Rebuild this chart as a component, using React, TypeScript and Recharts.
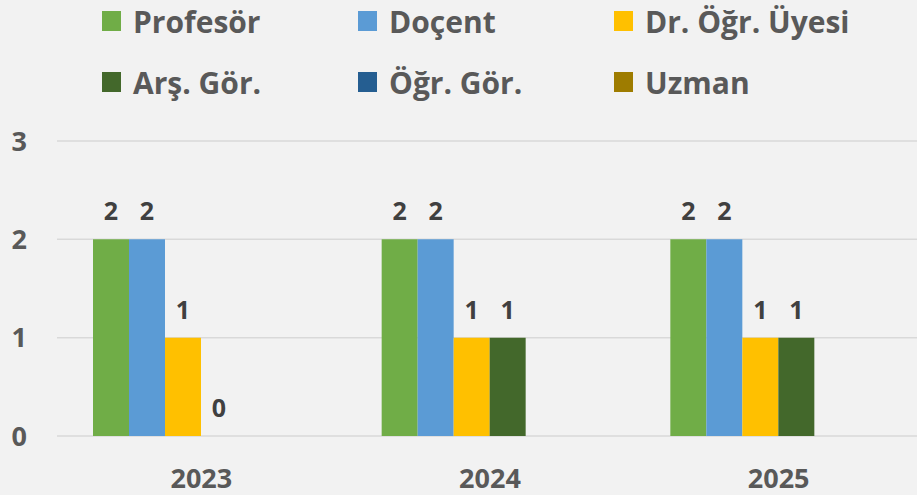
import React from 'react';
import { BarChart, Bar, XAxis, YAxis, CartesianGrid, LabelList } from 'recharts';

const years = ['2023', '2024', '2025'];
const profesor = [2, 2, 2];
const docent = [2, 2, 2];
const drOgrUyesi = [1, 1, 1];
const arsGor = [0, 1, 1];
const ogrGor: (number | null)[] = [null, null, null];
const uzman: (number | null)[] = [null, null, null];
const yTicks = [0, 1, 2, 3];

const series = [
    { key: 'profesor', name: 'Profesör', color: '#70AD47', values: profesor },
    { key: 'docent', name: 'Doçent', color: '#5B9BD5', values: docent },
    { key: 'drOgrUyesi', name: 'Dr. Öğr. Üyesi', color: '#FFC000', values: drOgrUyesi },
    { key: 'arsGor', name: 'Arş. Gör.', color: '#43682B', values: arsGor },
    { key: 'ogrGor', name: 'Öğr. Gör.', color: '#255E91', values: ogrGor },
    { key: 'uzman', name: 'Uzman', color: '#9E7C00', values: uzman },
];

const data = years.map((year, i) => {
    const row: Record<string, string | number | null> = { year };
    series.forEach((s) => {
        row[s.key] = s.values[i];
    });
    return row;
});

const FONT = '"Open Sans", sans-serif';

// zero values still need their "0" label, so keep a hairline rect for them
const zeroMin = (value: number | null) => (value === 0 ? 0.01 : 0);

const LegendBlock: React.FC = () => (
    <div
        style={{
            position: 'absolute',
            left: 102,
            top: 1,
            display: 'grid',
            gridTemplateColumns: '256px 256px 256px',
            gridAutoRows: '40px',
            rowGap: 21,
            fontFamily: FONT,
            fontWeight: 700,
            fontSize: 30,
            color: '#595959',
        }}
    >
        {series.map((s) => (
            <div key={s.key} style={{ display: 'flex', alignItems: 'center', whiteSpace: 'nowrap' }}>
                <span style={{ width: 19, height: 20, background: s.color, marginRight: 12, flexShrink: 0 }} />
                <span>{s.name}</span>
            </div>
        ))}
    </div>
);

const App: React.FC = () => {
    return (
        <div
            style={{
                position: 'absolute',
                left: 0,
                top: 0,
                width: 917,
                height: 495,
                overflow: 'hidden',
                background: '#f2f2f2',
            }}
        >
            <BarChart
                width={924}
                height={495}
                data={data}
                margin={{ top: 141, right: 1, left: 0, bottom: 0 }}
                barSize={36}
                barGap={0}
            >
                <CartesianGrid vertical={false} stroke="#d9d9d9" strokeWidth={1.5} />
                <XAxis
                    dataKey="year"
                    axisLine={false}
                    tickLine={false}
                    tickSize={0}
                    tickMargin={33}
                    height={59}
                    tick={{ fill: '#595959', fontSize: 27, fontWeight: 700, fontFamily: FONT }}
                />
                <YAxis
                    domain={[0, 3]}
                    ticks={yTicks}
                    width={57}
                    axisLine={false}
                    tickLine={false}
                    tickSize={0}
                    tickMargin={30}
                    tick={{ fill: '#595959', fontSize: 27, fontWeight: 700, fontFamily: FONT }}
                />
                {series.map((s) => (
                    <Bar
                        key={s.key}
                        dataKey={s.key}
                        name={s.name}
                        fill={s.color}
                        minPointSize={zeroMin}
                        isAnimationActive={false}
                    >
                        <LabelList
                            dataKey={s.key}
                            position="top"
                            offset={19}
                            fill="#404040"
                            fontSize={25}
                            fontWeight={700}
                            fontFamily={FONT}
                        />
                    </Bar>
                ))}
            </BarChart>
            <LegendBlock />
        </div>
    );
};

export default App;
